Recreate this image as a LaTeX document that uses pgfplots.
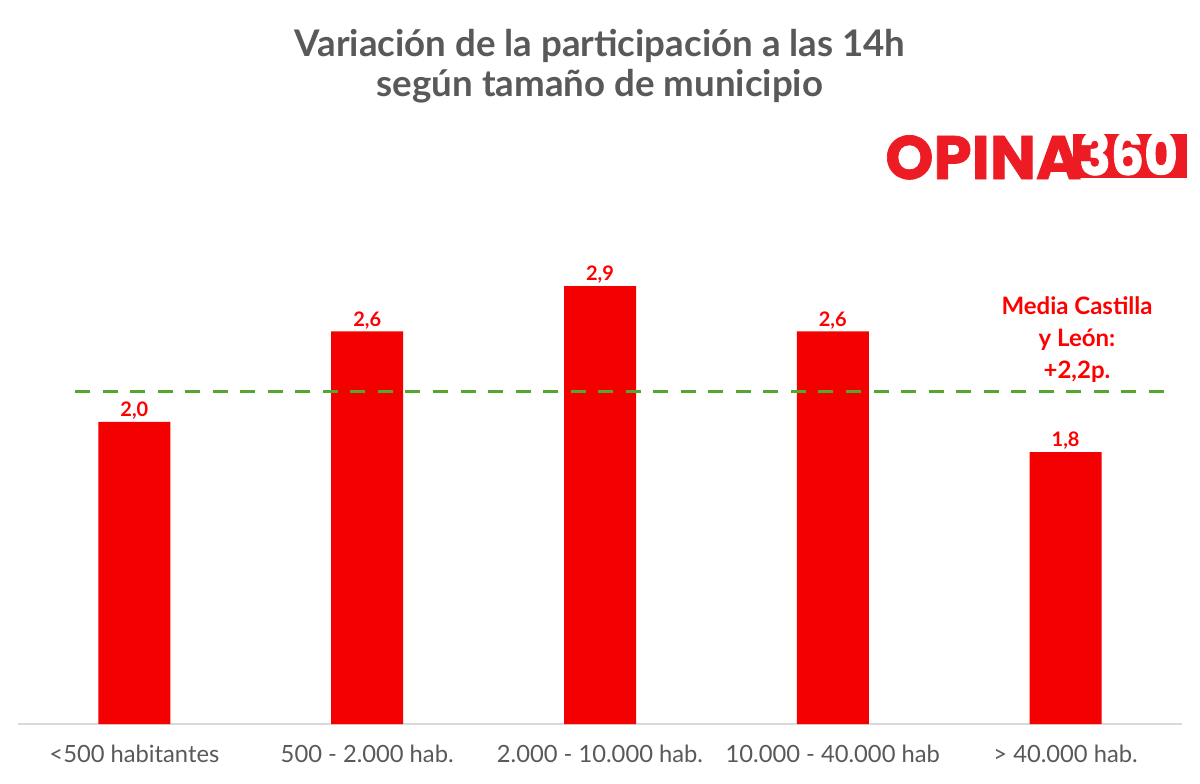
\documentclass[border=0pt]{standalone}
\usepackage{pgfplots}
\pgfplotsset{compat=1.18}
\usepackage{fontspec}
\setmainfont{Lato}
\newfontfamily\logofont{Poppins}[BoldFeatures={FakeBold=1.2}]

\definecolor{barred}{RGB}{243,0,0}
\definecolor{labred}{RGB}{255,0,0}
\definecolor{txtgray}{RGB}{89,89,89}
\definecolor{refgreen}{RGB}{84,166,46}
\definecolor{axgray}{RGB}{217,217,217}
\definecolor{logored}{RGB}{237,28,36}

\begin{document}
\begin{tikzpicture}
% page frame (900pt x 587.25pt), origin at the top left corner
\useasboundingbox (0,0) rectangle (900pt,-587.25pt);

% title
\node[align=center, text=txtgray, font=\bfseries\fontsize{27.5}{30}\selectfont]
  at (450pt,-49.5pt) {Variación de la participación a las 14h\\según tamaño de municipio};

% logo
\fill[logored] (804.75pt,-100.5pt) rectangle (890pt,-133.5pt);
\node[anchor=base west, inner sep=0pt, text=logored, font=\logofont\bfseries\fontsize{46}{46}\selectfont]
  at (663.75pt,-134.25pt) {OPINA};
\node[anchor=base, inner sep=0pt, text=white, font=\logofont\bfseries\fontsize{46}{46}\selectfont]
  at (846.5pt,-131.25pt) {\scalebox{0.85}[0.94]{360}};

\begin{axis}[
  at={(13.5pt,-543pt)}, anchor=south west,
  scale only axis, width=873pt, height=393pt,
  xmin=-0.5, xmax=4.5, ymin=0, ymax=3.47,
  axis x line*=bottom, axis y line=none,
  x axis line style={-, draw=axgray, line width=1.5pt},
  xtick={0,1,2,3,4},
  xticklabels={<500 habitantes, 500 - 2.000 hab., 2.000 - 10.000 hab., 10.000 - 40.000 hab, > 40.000 hab.},
  major tick length=0pt,
  xticklabel style={anchor=base, yshift=-28.5pt, text=txtgray, font=\fontsize{17.8}{20}\selectfont},
  bar width=54pt,
  clip=false,
]
\addplot[ybar, fill=barred, draw=none,
  nodes near coords={\pgfmathprintnumber[fixed,fixed zerofill,precision=1,use comma,assume math mode=true]{\pgfplotspointmeta}},
  nodes near coords style={anchor=base, yshift=4pt, text=labred, font=\bfseries\fontsize{15}{17}\selectfont}]
  coordinates {(0,2.0) (1,2.6) (2,2.9) (3,2.6) (4,1.8)};

% regional average
\addplot[refgreen, line width=2.25pt, dash pattern=on 11.25pt off 9.4pt]
  coordinates {(-0.255,2.2) (4.44,2.2)};
\end{axis}

\node[align=center, text=labred, font=\bfseries\fontsize{18}{24}\selectfont]
  at (807.75pt,-255pt) {Media Castilla\\y León:\\+2,2p.};
\end{tikzpicture}
\end{document}
